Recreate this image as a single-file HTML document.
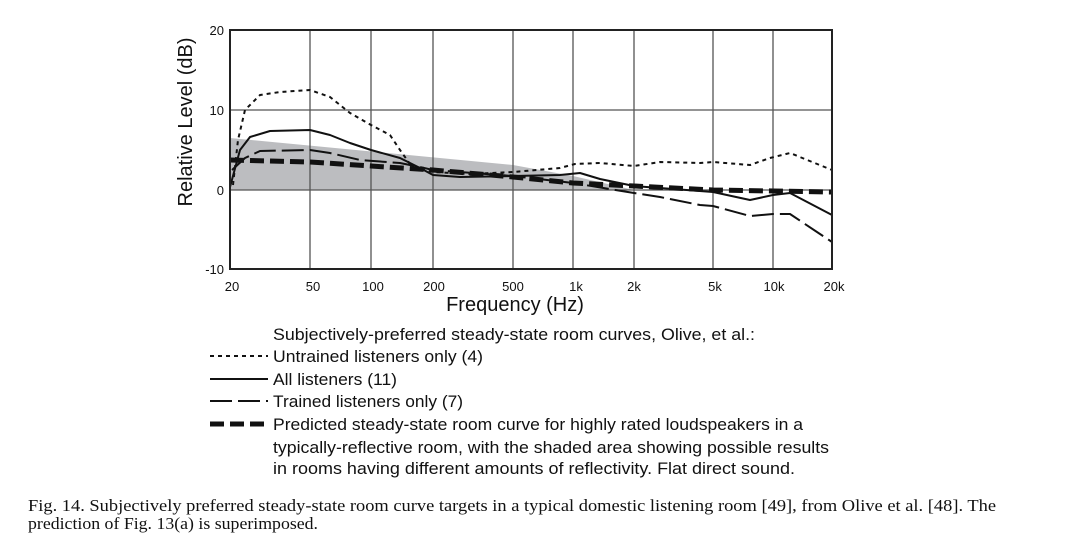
<!DOCTYPE html>
<html><head><meta charset="utf-8"><style>
html,body{margin:0;padding:0;background:#fff;}
svg{display:block;}
</style></head><body>
<svg width="1082" height="557" xmlns="http://www.w3.org/2000/svg" font-family="Liberation Sans, sans-serif">
<rect width="1082" height="557" fill="#fff"/>
<polygon points="230,138 513,165 573,176 634,190 230,190" fill="#bcbdc0"/>
<g stroke="#555" stroke-width="1.3">
<line x1="310" y1="30" x2="310" y2="269"/><line x1="371" y1="30" x2="371" y2="269"/>
<line x1="433" y1="30" x2="433" y2="269"/><line x1="513" y1="30" x2="513" y2="269"/>
<line x1="573" y1="30" x2="573" y2="269"/><line x1="634" y1="30" x2="634" y2="269"/>
<line x1="713" y1="30" x2="713" y2="269"/><line x1="773" y1="30" x2="773" y2="269"/>
<line x1="230" y1="110" x2="832" y2="110"/><line x1="230" y1="190" x2="832" y2="190"/>
</g>
<g fill="none" stroke="#111" stroke-linejoin="round">
<polyline stroke-width="2" stroke-dasharray="4,4" points="233,185 238,140 245,110 260,95 280,92 310,90 330,97 350,113 371,125 390,135 400,150 412,167 433,172 470,174 513,172 560,168 575,164 600,163 634,166 660,162 700,163 713,162 750,165 770,158 790,153 832,170"/>
<polyline stroke-width="2" points="230,187 240,150 250,137 270,131 310,130 330,135 350,143 371,150 400,158 420,168 433,175 460,177 513,176 560,175 580,173 600,179 634,186 660,188 713,192 750,200 773,195 790,193 832,215"/>
<polyline stroke-width="2" stroke-dasharray="22,6" points="232,170 245,158 260,151 310,150 330,153 360,160 400,163 420,167 433,170 513,176 573,183 634,193 660,197 700,205 713,206 750,216 773,214 790,214 832,242"/>
<polyline stroke-width="5" stroke-dasharray="14,6" points="230,160 310,162 371,166 433,170 513,177 573,183 634,186 713,190 773,191 832,192"/>
</g>
<rect x="230" y="30" width="602" height="239" fill="none" stroke="#222" stroke-width="2"/>
<g font-size="13" fill="#111" text-anchor="end">
<text x="224" y="35">20</text><text x="224" y="115">10</text><text x="224" y="195">0</text><text x="224" y="274">-10</text>
</g>
<g font-size="13" fill="#111" text-anchor="middle">
<text x="232" y="291">20</text><text x="313" y="291">50</text><text x="373" y="291">100</text><text x="434" y="291">200</text>
<text x="513" y="291">500</text><text x="576" y="291">1k</text><text x="634" y="291">2k</text><text x="715" y="291">5k</text><text x="774" y="291">10k</text><text x="834" y="291">20k</text>
</g>
<text x="515" y="311" font-size="20" text-anchor="middle" fill="#111">Frequency (Hz)</text>
<text transform="translate(192,122) rotate(-90)" font-size="20" text-anchor="middle" fill="#111">Relative Level (dB)</text>
<g fill="none" stroke="#111">
<line x1="210" y1="356" x2="268" y2="356" stroke-width="2" stroke-dasharray="4,4"/>
<line x1="210" y1="379" x2="268" y2="379" stroke-width="2"/>
<line x1="210" y1="401" x2="268" y2="401" stroke-width="2" stroke-dasharray="22,6"/>
<line x1="210" y1="424" x2="268" y2="424" stroke-width="5" stroke-dasharray="14,6"/>
</g>
<g font-size="17" fill="#111">
<text x="273" y="340" textLength="482" lengthAdjust="spacingAndGlyphs">Subjectively-preferred steady-state room curves, Olive, et al.:</text>
<text x="273" y="362" textLength="210" lengthAdjust="spacingAndGlyphs">Untrained listeners only (4)</text>
<text x="273" y="385" textLength="124" lengthAdjust="spacingAndGlyphs">All listeners (11)</text>
<text x="273" y="407" textLength="190" lengthAdjust="spacingAndGlyphs">Trained listeners only (7)</text>
<text x="273" y="430" textLength="530" lengthAdjust="spacingAndGlyphs">Predicted steady-state room curve for highly rated loudspeakers in a</text>
<text x="273" y="453" textLength="556" lengthAdjust="spacingAndGlyphs">typically-reflective room, with the shaded area showing possible results</text>
<text x="273" y="474" textLength="522" lengthAdjust="spacingAndGlyphs">in rooms having different amounts of reflectivity.  Flat direct sound.</text>
</g>
<g font-family="Liberation Serif, serif" font-size="17" fill="#111">
<text x="28" y="511" textLength="968" lengthAdjust="spacingAndGlyphs">Fig. 14.  Subjectively preferred steady-state room curve targets in a typical domestic listening room [49], from Olive et al. [48]. The</text>
<text x="28" y="529" textLength="290" lengthAdjust="spacingAndGlyphs">prediction of Fig. 13(a) is superimposed.</text>
</g>
</svg>
</body></html>
